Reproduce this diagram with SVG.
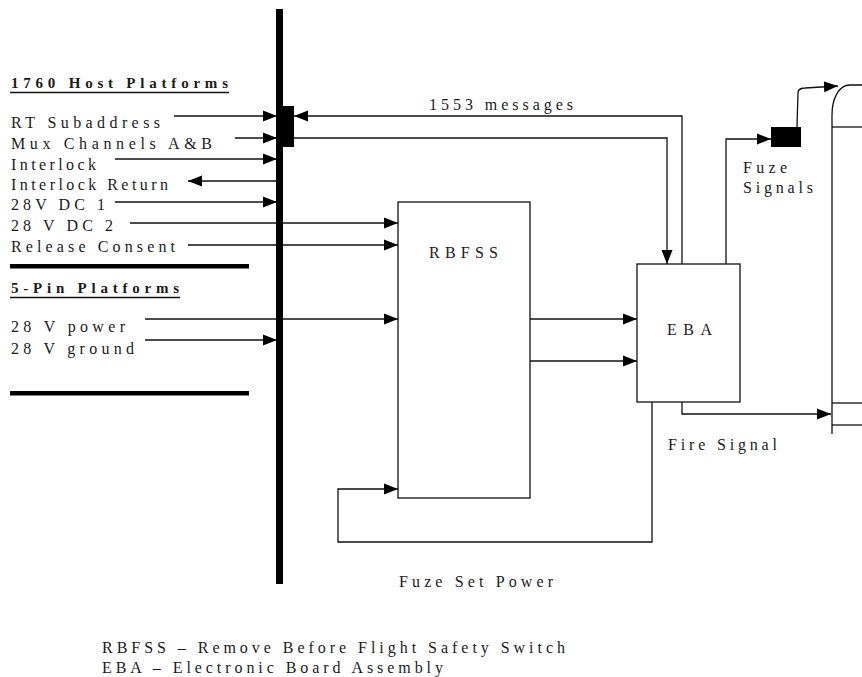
<svg xmlns="http://www.w3.org/2000/svg" width="862" height="677" viewBox="0 0 862 677">
<defs>
<marker id="ah" markerUnits="userSpaceOnUse" markerWidth="15" markerHeight="12" refX="14" refY="5.5" orient="auto" viewBox="0 0 15 11">
<path d="M0,0 L14,5.5 L0,11 z" fill="#000"/>
</marker>
</defs>
<style>
text{font-size:16px;fill:#1a1a1a}
.b{font-weight:bold;font-size:15px}
.w{fill:none;stroke:#111;stroke-width:1.3}
.a{fill:none;stroke:#111;stroke-width:1.3;marker-end:url(#ah)}
.box{fill:#fff;stroke:#111;stroke-width:1.3}
</style>
<rect width="862" height="677" fill="#fff"/>
<g id="connectors">
<path class="a" d="M174,116 H277"/>
<path class="a" d="M235,138 H277"/>
<path class="a" d="M115,159 H277"/>
<path class="a" d="M276,181 H188"/>
<path class="a" d="M115,202 H277"/>
<path class="a" d="M130,223 H398"/>
<path class="a" d="M188,245 H398"/>
<path class="a" d="M145,319 H398"/>
<path class="a" d="M145,340 H277"/>
<path class="a" d="M682,264 V116 H294"/>
<path class="a" d="M294,138 H667 V264"/>
<path class="a" d="M530,319 H637"/>
<path class="a" d="M530,361 H637"/>
<path class="a" d="M652,402 V542 H338 V489 H398"/>
<path class="a" d="M682,402 V414 H831"/>
<path class="a" d="M726,264 V139 H771"/>
<path class="a" d="M797,127 L798,92 Q799,88 805,88 L838,86"/>
</g>
<g id="bus">
<rect x="276" y="9" width="7" height="575" fill="#000"/>
<rect x="282" y="106" width="12" height="41" fill="#000"/>
</g>
<g id="separators">
<rect x="10" y="264" width="239" height="4.5" fill="#000"/>
<rect x="10" y="391" width="239" height="4.5" fill="#000"/>
<line x1="10" y1="92.5" x2="229" y2="92.5" stroke="#111" stroke-width="1.6"/>
<line x1="10" y1="297.5" x2="180" y2="297.5" stroke="#111" stroke-width="1.6"/>
</g>
<g font-family="Liberation Serif, Times New Roman, serif">
<g id="labels-left">
<text class="b" x="11" y="88" textLength="217" lengthAdjust="spacing">1760 Host Platforms</text>
<text x="11" y="128" textLength="149" lengthAdjust="spacing">RT Subaddress</text>
<text x="11" y="149" textLength="201" lengthAdjust="spacing">Mux Channels A&amp;B</text>
<text x="11" y="170" textLength="85" lengthAdjust="spacing">Interlock</text>
<text x="11" y="190" textLength="157" lengthAdjust="spacing">Interlock Return</text>
<text x="11" y="210" textLength="94" lengthAdjust="spacing">28V DC 1</text>
<text x="11" y="231" textLength="102" lengthAdjust="spacing">28 V DC 2</text>
<text x="11" y="252" textLength="164" lengthAdjust="spacing">Release Consent</text>
<text class="b" x="11" y="293" textLength="168" lengthAdjust="spacing">5-Pin Platforms</text>
<text x="11" y="332" textLength="114" lengthAdjust="spacing">28 V power</text>
<text x="11" y="354" textLength="123" lengthAdjust="spacing">28 V ground</text>
</g>
<g id="rbfss">
<rect class="box" x="398" y="202" width="132" height="296"/>
<text x="429" y="258" textLength="69" lengthAdjust="spacing">RBFSS</text>
</g>
<g id="eba">
<rect class="box" x="637" y="264" width="103" height="138"/>
<text x="667" y="335" textLength="45" lengthAdjust="spacing">EBA</text>
</g>
<g id="fuze">
<rect x="771" y="127" width="30" height="20" fill="#000"/>
<text x="743" y="173" textLength="44" lengthAdjust="spacing">Fuze</text>
<text x="743" y="193" textLength="70" lengthAdjust="spacing">Signals</text>
</g>
<g id="connector-labels">
<text x="429" y="110" textLength="144" lengthAdjust="spacing">1553 messages</text>
<text x="668" y="450" textLength="109" lengthAdjust="spacing">Fire Signal</text>
<text x="399" y="587" textLength="154" lengthAdjust="spacing">Fuze Set Power</text>
</g>
<g id="legend">
<text x="102" y="653" textLength="463" lengthAdjust="spacing">RBFSS – Remove Before Flight Safety Switch</text>
<text x="102" y="673" textLength="341" lengthAdjust="spacing">EBA – Electronic Board Assembly</text>
</g>
</g>
<g id="weapon">
<path class="w" d="M832,434 L832,115 C832,100 838,85 850,85 L862,85"/>
<line class="w" x1="832" y1="127" x2="862" y2="127"/>
<line class="w" x1="832" y1="403" x2="862" y2="403"/>
<line class="w" x1="832" y1="425" x2="862" y2="425"/>
</g>
</svg>
